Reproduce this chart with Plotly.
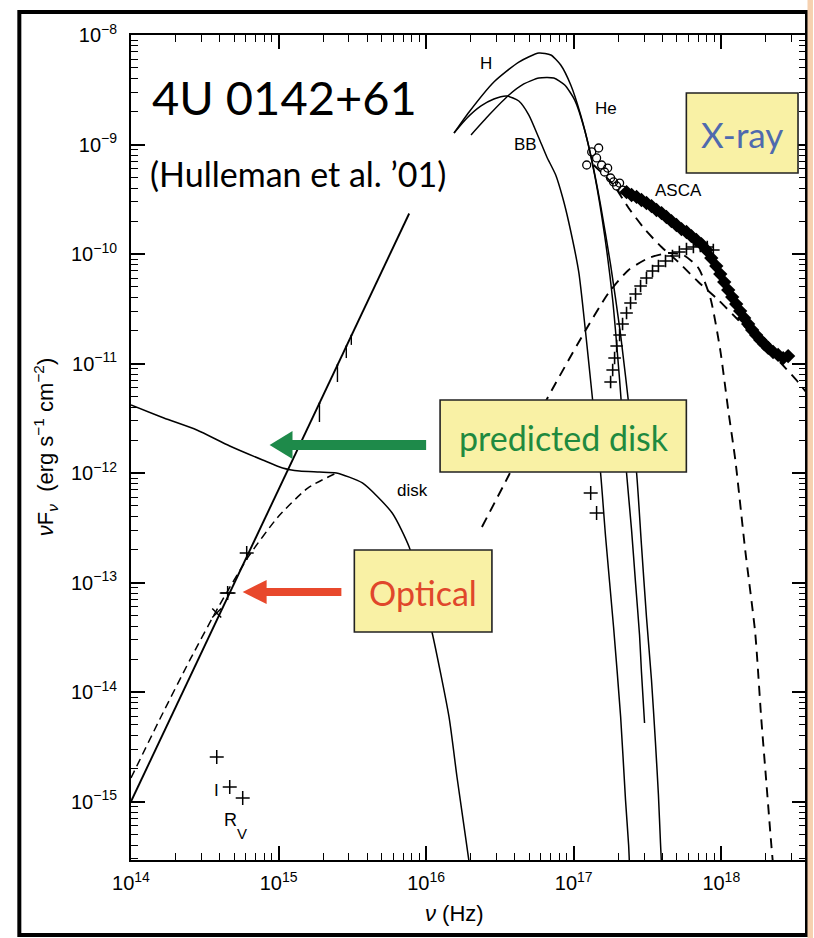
import numpy as np
import plotly.graph_objects as go

# ---------------- data (log10 values) ----------------
# power-law (solid straight line)
pl_lognu = [14.0, 15.885]
pl_logF = [-15.0, -9.63]

# disk model: total (solid)
disk_lognu = [14.000, 14.223, 14.446, 14.669, 14.892, 15.027, 15.142, 15.277, 15.392,
              15.568, 15.770, 15.885, 15.966, 16.041, 16.155, 16.209, 16.270, 16.291]
disk_logF = [-11.379, -11.498, -11.607, -11.753, -11.881, -11.954, -11.982, -11.991, -12.000,
             -12.091, -12.365, -12.676, -13.068, -13.461, -14.228, -14.776, -15.352, -15.553]

# disk model alone (dashed)
diskd_lognu = [14.0, 14.2, 14.4, 14.6, 14.8, 15.0, 15.2, 15.392]
diskd_logF = [-14.785, -14.235, -13.705, -13.205, -12.755, -12.395, -12.135, -12.000]

# atmosphere models
bb_lognu = [16.189, 16.277, 16.372, 16.459, 16.547, 16.628, 16.696, 16.764, 16.818, 16.878,
            16.926, 16.966, 17.034, 17.081, 17.128, 17.182, 17.216, 17.270, 17.318, 17.351,
            17.372, 17.378]
bb_logF = [-8.895, -8.758, -8.648, -8.584, -8.557, -8.603, -8.731, -8.941, -9.114, -9.279,
           -9.489, -9.708, -10.164, -10.721, -11.333, -12.000, -12.584, -13.406, -14.228, -14.986,
           -15.397, -15.580]

h_lognu = [16.189, 16.291, 16.459, 16.628, 16.764, 16.845, 16.912, 16.980, 17.047, 17.115,
           17.182, 17.250, 17.318, 17.385, 17.426, 17.459, 17.493, 17.527, 17.554, 17.574,
           17.588, 17.595]
h_logF = [-8.895, -8.703, -8.429, -8.247, -8.164, -8.183, -8.274, -8.457, -8.731, -9.096,
          -9.553, -10.100, -10.740, -11.516, -12.000, -12.658, -13.315, -13.890, -14.466, -14.941,
          -15.379, -15.580]

he_lognu = [16.304, 16.426, 16.561, 16.662, 16.764, 16.865, 16.939, 17.007, 17.074, 17.142,
            17.209, 17.264, 17.311, 17.358, 17.392, 17.419, 17.446, 17.459, 17.480]
he_logF = [-8.913, -8.731, -8.548, -8.447, -8.393, -8.393, -8.457, -8.594, -8.868, -9.279,
           -9.826, -10.420, -11.151, -12.000, -12.521, -13.005, -13.479, -13.817, -14.283]

# X-ray model components (dashed)
xbb_lognu = [16.378, 16.561, 16.797, 17.054, 17.236, 17.372, 17.507, 17.642, 17.743, 17.845,
             17.926, 17.993, 18.047, 18.095, 18.162, 18.230, 18.270, 18.304, 18.338, 18.351]
xbb_logF = [-12.493, -12.018, -11.379, -10.758, -10.356, -10.146, -10.037, -9.991, -10.009, -10.128,
            -10.402, -10.877, -11.425, -11.881, -12.703, -13.461, -14.228, -14.804, -15.379, -15.580]

xpl_lognu = [17.135, 17.270, 17.372, 17.486, 17.595, 17.709, 17.845, 17.980, 18.115, 18.250,
             18.385, 18.520, 18.574]
xpl_logF = [-9.187, -9.370, -9.580, -9.781, -9.936, -10.073, -10.256, -10.420, -10.603, -10.785,
            -10.968, -11.169, -11.260]

# ASCA data: open circles, dense filled band, unabsorbed (+) branch
asca_o_lognu = [17.088, 17.122, 17.155, 17.169, 17.189, 17.209, 17.230, 17.250, 17.270, 17.291,
                17.311, 17.331]
asca_o_logF = [-9.187, -9.068, -9.123, -9.032, -9.187, -9.251, -9.215, -9.306, -9.342, -9.379,
               -9.352, -9.416]

asca_f_lognu = [17.358, 17.392, 17.426, 17.459, 17.493, 17.527, 17.561, 17.595, 17.628, 17.662,
                17.696, 17.730, 17.764, 17.797, 17.831, 17.865, 17.899, 17.932, 17.966, 17.993,
                18.020, 18.047, 18.074, 18.101, 18.128, 18.155, 18.182, 18.209, 18.236, 18.264,
                18.291, 18.318, 18.351, 18.385, 18.419, 18.453]
asca_f_logF = [-9.434, -9.461, -9.479, -9.507, -9.534, -9.562, -9.598, -9.626, -9.662, -9.699,
               -9.735, -9.772, -9.799, -9.836, -9.872, -9.909, -9.963, -10.037, -10.110, -10.183,
               -10.256, -10.329, -10.393, -10.457, -10.521, -10.584, -10.639, -10.694, -10.740, -10.785,
               -10.822, -10.858, -10.895, -10.922, -10.950, -10.932]

asca_u_lognu = [17.250, 17.264, 17.277, 17.291, 17.311, 17.331, 17.358, 17.385, 17.419, 17.453,
                17.493, 17.534, 17.574, 17.622, 17.669, 17.716, 17.764, 17.811, 17.858, 17.905,
                17.946]
asca_u_logF = [-11.169, -11.059, -10.950, -10.840, -10.740, -10.639, -10.539, -10.447, -10.365, -10.292,
               -10.219, -10.155, -10.110, -10.064, -10.018, -9.982, -9.954, -9.936, -9.927, -9.936,
               -9.963]

# optical / IR points
opt_x_lognu = [14.581]
opt_x_logF = [-13.279]
opt_p_lognu = [14.655, 14.784]
opt_p_logF = [-13.096, -12.731]
opt_p_xerr_lo = [14.601, 14.784]
opt_p_xerr_hi = [14.709, 14.784]

ir_lognu = [15.277, 15.399, 15.459, 15.493]
ir_logF = [-11.362, -11.014, -10.843, -10.745]
ir_logF_low = [-11.534, -11.169, -10.950, -10.830]

# faint optical points (lower left) and X-ray low points
low_lognu = [14.581, 14.669, 14.757]
low_logF = [-14.594, -14.868, -14.968]
xlow_lognu = [17.115, 17.155]
xlow_logF = [-12.183, -12.365]

# axis ticks
x_major_exp = [14, 15, 16, 17, 18]
y_major_exp = [-15, -14, -13, -12, -11, -10, -9, -8]


def p(a):
    return 10 ** np.array(a, dtype=float)


fig = go.Figure()
LW = 1.5
black = "black"


def line(lx, ly, dash=None, width=LW):
    fig.add_trace(go.Scatter(x=p(lx), y=p(ly), mode="lines",
                             line=dict(color=black, width=width, dash=dash, shape="spline", smoothing=0.6),
                             showlegend=False, hoverinfo="skip"))


line(pl_lognu, pl_logF, width=1.9)
line(disk_lognu, disk_logF)
line(diskd_lognu, diskd_logF, dash="8px,5px")
line(bb_lognu, bb_logF)
line(h_lognu, h_logF)
line(he_lognu, he_logF)
line(xbb_lognu, xbb_logF, dash="10px,7px", width=1.9)
line(xpl_lognu, xpl_logF, dash="10px,7px", width=1.9)

# ASCA data
fig.add_trace(go.Scatter(x=p(asca_o_lognu), y=p(asca_o_logF), mode="markers",
                         marker=dict(symbol="circle-open", size=8, color=black, line=dict(width=1.3)),
                         showlegend=False))
fig.add_trace(go.Scatter(x=p(asca_f_lognu), y=p(asca_f_logF), mode="markers",
                         marker=dict(symbol="diamond", size=11, color=black),
                         showlegend=False))
fig.add_trace(go.Scatter(x=p(asca_u_lognu), y=p(asca_u_logF), mode="markers",
                         marker=dict(symbol="cross-thin", size=9, color=black, line=dict(width=1.6, color=black)),
                         showlegend=False))

# optical / IR
fig.add_trace(go.Scatter(x=p(opt_x_lognu), y=p(opt_x_logF), mode="markers",
                         marker=dict(symbol="x-thin", size=9, line=dict(width=1.5, color=black)),
                         showlegend=False))
ox = p(opt_p_lognu)
fig.add_trace(go.Scatter(x=ox, y=p(opt_p_logF), mode="markers",
                         marker=dict(symbol="cross-thin", size=10, line=dict(width=1.5, color=black)),
                         error_x=dict(type="data", symmetric=False,
                                      array=p(opt_p_xerr_hi) - ox, arrayminus=ox - p(opt_p_xerr_lo),
                                      width=0, thickness=1.3, color=black),
                         showlegend=False))
iy = p(ir_logF)
fig.add_trace(go.Scatter(x=p(ir_lognu), y=iy, mode="markers",
                         marker=dict(size=2, color=black),
                         error_y=dict(type="data", symmetric=False, array=[0] * len(iy),
                                      arrayminus=iy - p(ir_logF_low), width=0, thickness=1.4, color=black),
                         showlegend=False))
fig.add_trace(go.Scatter(x=p(low_lognu + xlow_lognu), y=p(low_logF + xlow_logF), mode="markers",
                         marker=dict(symbol="cross-thin", size=10, line=dict(width=1.5, color=black)),
                         showlegend=False))

# ---------------- axes ----------------
x_minor = [m * 10.0 ** e for e in range(14, 19) for m in range(2, 10) if m * 10.0 ** e < 10 ** 18.574]
y_minor = [m * 10.0 ** e for e in range(-16, -8) for m in range(2, 10) if 10 ** -15.534 < m * 10.0 ** e < 1e-8]

tickfont = dict(family="Liberation Sans, Arial", size=20, color=black)
fig.update_xaxes(type="log", range=[14, 18.574],
                 tickvals=[10.0 ** e for e in x_major_exp],
                 ticktext=["10<sup>%d</sup>" % e for e in x_major_exp],
                 ticks="inside", ticklen=14, tickwidth=1.5, tickcolor=black,
                 mirror="allticks", showline=True, linewidth=2, linecolor=black,
                 showgrid=False, zeroline=False, tickfont=tickfont, ticklabelstandoff=4,
                 minor=dict(ticks="inside", ticklen=7, tickwidth=1.2, tickcolor=black,
                            tickvals=x_minor, showgrid=False))
fig.update_yaxes(type="log", range=[-15.534, -8],
                 tickvals=[10.0 ** e for e in y_major_exp],
                 ticktext=["10<sup>\u2212%d</sup>" % (-e) for e in y_major_exp],
                 ticks="inside", ticklen=14, tickwidth=1.5, tickcolor=black,
                 mirror="allticks", showline=True, linewidth=2, linecolor=black,
                 showgrid=False, zeroline=False, tickfont=tickfont, ticklabelstandoff=8,
                 minor=dict(ticks="inside", ticklen=7, tickwidth=1.2, tickcolor=black,
                            tickvals=y_minor, showgrid=False))

# ---------------- decorations (paper coords) ----------------
L, T, W, H = 131, 35, 677, 825


def xp(px):
    return (px - L) / W


def yp(py):
    return (T + H - py) / H


shapes = []
# outer frame
shapes.append(dict(type="rect", xref="paper", yref="paper", x0=xp(19), x1=xp(809), y0=yp(935), y1=yp(12),
                   line=dict(color=black, width=4), fillcolor="rgba(0,0,0,0)", layer="above"))
shapes.append(dict(type="rect", xref="paper", yref="paper", x0=xp(809.5), x1=xp(815), y0=yp(940), y1=yp(-2),
                   line=dict(width=0), fillcolor="#f6d1b0", layer="above"))

box_fill = "#f9f1a5"
for (x0, x1, y0, y1) in [(688, 800, 93, 173), (441, 688, 400, 472), (355, 493, 550, 632)]:
    shapes.append(dict(type="rect", xref="paper", yref="paper", x0=xp(x0), x1=xp(x1), y0=yp(y1), y1=yp(y0),
                       line=dict(color="#222222", width=1.6), fillcolor=box_fill, layer="above"))

green = "#1e8a4a"
red = "#e8482c"
# green arrow
shapes.append(dict(type="rect", xref="paper", yref="paper", x0=xp(288), x1=xp(427), y0=yp(450), y1=yp(440),
                   line=dict(width=0), fillcolor=green, layer="above"))
shapes.append(dict(type="path", xref="paper", yref="paper",
                   path="M %f %f L %f %f L %f %f Z" % (xp(270), yp(445), xp(293), yp(431), xp(293), yp(459)),
                   line=dict(width=0), fillcolor=green, layer="above"))
# red arrow
shapes.append(dict(type="rect", xref="paper", yref="paper", x0=xp(262), x1=xp(342), y0=yp(596), y1=yp(588),
                   line=dict(width=0), fillcolor=red, layer="above"))
shapes.append(dict(type="path", xref="paper", yref="paper",
                   path="M %f %f L %f %f L %f %f Z" % (xp(243), yp(592), xp(267), yp(580), xp(267), yp(604)),
                   line=dict(width=0), fillcolor=red, layer="above"))

ann = []


def text(t, px, py, size, color=black, family="Lato", xanchor="center", angle=0):
    ann.append(dict(text=t, x=xp(px), y=yp(py), xref="paper", yref="paper", showarrow=False,
                    xanchor=xanchor, yanchor="middle", textangle=angle,
                    font=dict(family=family, size=size, color=color)))


text("4U 0142+61", 150, 97, 47, xanchor="left")
text("(Hulleman et al. \u201901)", 148, 174, 34, xanchor="left")
text("X-ray", 744, 134, 35, color="#4f6aae")
text("predicted disk", 565, 437, 34, color="#1f8a3f")
text("Optical", 424, 592, 34, color="#e0472b")

small = "Liberation Sans, Arial"
text("H", 487, 63, 17, family=small)
text("He", 607, 108, 17, family=small)
text("BB", 527, 145, 17, family=small)
text("ASCA", 680, 190, 17, family=small)
text("disk", 413, 490, 17, family=small)
text("I", 217, 790, 17, family=small)
text("R", 231, 820, 18, family=small)
text("V", 242, 833, 15, family=small)

text("<i>\u03bd</i> (Hz)", 455, 913, 22, family=small)
text("<i>\u03bd</i>F<sub><i>\u03bd</i></sub>  (erg s<sup>\u22121</sup> cm<sup>\u22122</sup>)", 45, 447, 22,
     family=small, angle=-90)

fig.update_layout(width=814, height=938, margin=dict(l=L, r=814 - L - W, t=T, b=938 - T - H),
                  paper_bgcolor="white", plot_bgcolor="white", shapes=shapes, annotations=ann,
                  showlegend=False)

fig.write_html("out.html")
